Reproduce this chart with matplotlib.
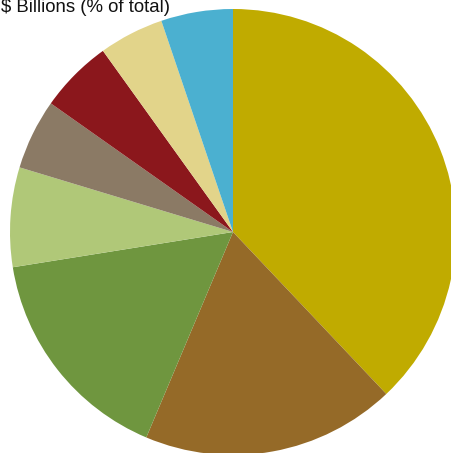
import matplotlib
matplotlib.use("Agg")
import matplotlib.pyplot as plt

values = [37.9, 18.4, 16.1, 7.2, 5.1, 5.3, 4.7, 5.2]
colors = ["#C0AB00", "#956A28", "#6F963F", "#B0C878", "#8B7A65", "#8B171C", "#E2D48A", "#4BB0D0"]
title = "$ Billions (% of total)"

fig = plt.figure(figsize=(4.52, 4.53), dpi=100)
ax = fig.add_axes([0, 0, 1, 1])
ax.pie(values, colors=colors, startangle=90, counterclock=False,
       center=(233, 453 - 232), radius=223,
       wedgeprops=dict(linewidth=0))
ax.set_xlim(0, 452)
ax.set_ylim(0, 453)
ax.set_aspect("equal")
ax.axis("off")
ax.text(1, 453 - 12, title, fontsize=13.4, family=["Liberation Sans", "DejaVu Sans"],
        ha="left", va="baseline", color="#111111")
fig.savefig("out.png", dpi=100)
